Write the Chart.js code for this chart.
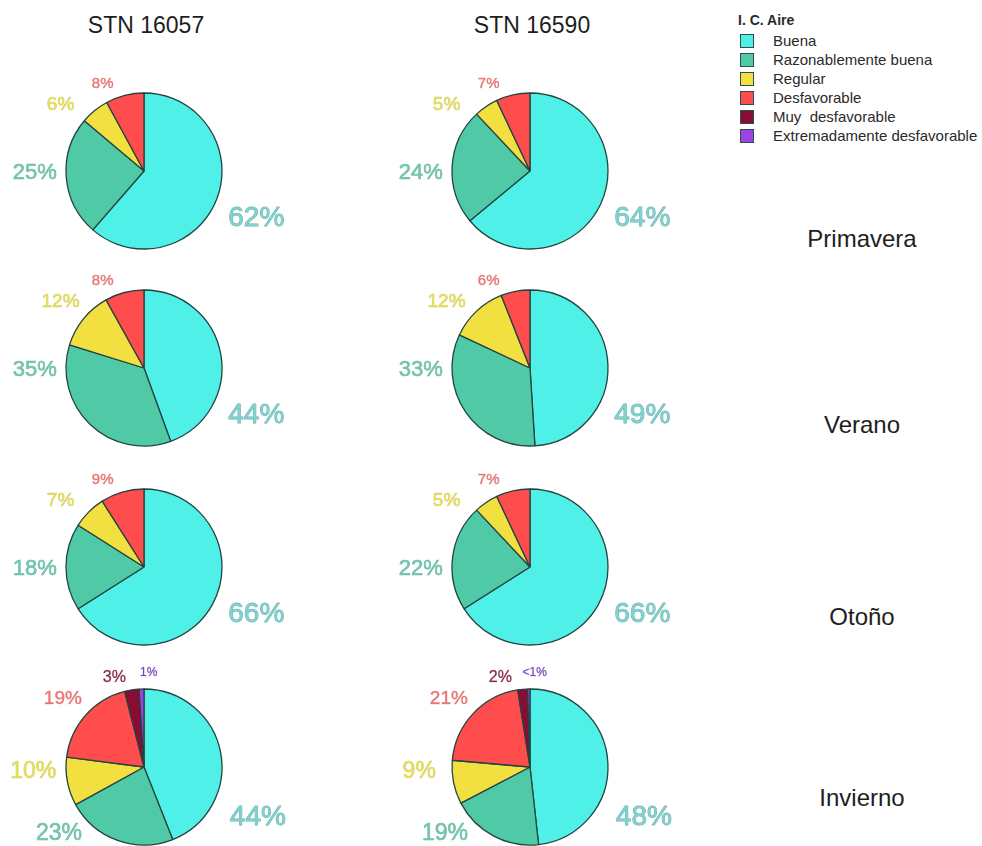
<!DOCTYPE html>
<html>
<head>
<meta charset="utf-8">
<script src="https://cdn.jsdelivr.net/npm/chart.js@4/dist/chart.umd.min.js"></script>
<style>
  html, body { margin: 0; padding: 0; background: #fff; }
  body { width: 982px; height: 846px; position: relative; overflow: hidden;
         font-family: Arial, "Liberation Sans", sans-serif; color: #1e1e1e; }
  .pie { position: absolute; }
  .txt { position: absolute; transform: translate(-50%, -50%); white-space: nowrap; }
  .station { font-size: 23px; }
  .season { font-size: 24px; }
  .legend { position: absolute; left: 738px; top: 10px; font-size: 15px; color: #2a2a2a; }
  .legend .head { font-size: 14px; font-weight: bold; height: 21px; line-height: 21px; }
  .legend .row { height: 19px; line-height: 19px; white-space: pre; position: relative; padding-left: 35px; }
  .legend .sw { position: absolute; left: 2px; top: 3px; width: 12px; height: 12px;
                border: 1px solid #2b4f4a; box-sizing: content-box; }
</style>
</head>
<body>
<script>
// Air quality index classes (legend order = slice order, clockwise from 12 o'clock)
const categories = ['Buena', 'Razonablemente buena', 'Regular', 'Desfavorable',
                    'Muy  desfavorable', 'Extremadamente desfavorable'];
const stations = ['STN 16057', 'STN 16590'];
const seasons = ['Primavera', 'Verano', 'Otoño', 'Invierno'];

// Share of days (%) per class, per station and season
const s16057Primavera = [62, 25, 6, 8, 0, 0];
const s16057Verano    = [44, 35, 12, 8, 0, 0];
const s16057Otono     = [66, 18, 7, 9, 0, 0];
const s16057Invierno  = [44, 23, 10, 19, 3, 1];

const s16590Primavera = [64, 24, 5, 7, 0, 0];
const s16590Verano    = [49, 33, 12, 6, 0, 0];
const s16590Otono     = [66, 22, 5, 7, 0, 0];
const s16590Invierno  = [48, 19, 9, 21, 2, 0.5];

const seriesByStation = [
  [s16057Primavera, s16057Verano, s16057Otono, s16057Invierno],
  [s16590Primavera, s16590Verano, s16590Otono, s16590Invierno]
];

// ---- styling ----
const sliceColors = ['#4ff0e7', '#4fc9a6', '#f1e040', '#ff4c4c', '#8a0b33', '#9b42e4'];
const labelColors = ['#7dd3d0', '#6cc8ae', '#e6df50', '#ee7474', '#8a2646', '#7d48c4'];
const labelEdge   = ['rgba(70,140,138,0.75)', 'rgba(70,140,122,0.7)', 'rgba(170,162,40,0.6)',
                     'rgba(190,80,80,0.5)', 'rgba(100,20,50,0.4)', 'rgba(90,45,150,0.4)'];
const edgeColor = '#24443f';

// page layout
const colX = [144, 530];
const rowY = [171, 368, 567, 767];
const pieRadius = 78;
const boxW = 300, boxH = 224;

// label placement around each pie, in units of the pie radius, plus font size
const slotsStandard = [
  { dx: 1.44, dy: 0.60, size: 28 },
  { dx: -1.40, dy: 0.03, size: 22 },
  { dx: -1.07, dy: -0.85, size: 19 },
  { dx: -0.53, dy: -1.12, size: 15 },
  { dx: -0.38, dy: -1.14, size: 16 },
  { dx: 0.06, dy: -1.20, size: 12 }
];
const slotsWinter = [
  { dx: 1.46, dy: 0.64, size: 28 },
  { dx: -1.09, dy: 0.86, size: 23 },
  { dx: -1.42, dy: 0.06, size: 23 },
  { dx: -1.04, dy: -0.87, size: 19 },
  { dx: -0.38, dy: -1.14, size: 16 },
  { dx: 0.06, dy: -1.21, size: 12 }
];

function pctText(v) { return v < 1 ? '<1%' : Math.round(v) + '%'; }

// draws each slice's percentage outside the pie
const pctLabels = {
  id: 'pctLabels',
  afterDatasetsDraw(chart, args, opts) {
    const ctx = chart.ctx;
    const meta = chart.getDatasetMeta(0);
    const values = chart.data.datasets[0].data;
    meta.data.forEach((arc, i) => {
      const v = values[i];
      if (!v) return;
      const s = opts.slots[i];
      const r = arc.outerRadius;
      const x = arc.x + s.dx * r;
      const y = arc.y + s.dy * r;
      ctx.save();
      ctx.font = s.size + 'px Arial, "Liberation Sans", sans-serif';
      ctx.textAlign = 'center';
      ctx.textBaseline = 'middle';
      ctx.lineWidth = s.size >= 26 ? 0.9 : 0.6;
      ctx.strokeStyle = labelEdge[i];
      ctx.lineJoin = 'round';
      ctx.strokeText(pctText(v), x, y);
      ctx.fillStyle = labelColors[i];
      ctx.fillText(pctText(v), x, y);
      ctx.restore();
    });
  }
};

function addText(cls, text, x, y) {
  const d = document.createElement('div');
  d.className = 'txt ' + cls;
  d.textContent = text;
  d.style.left = x + 'px';
  d.style.top = y + 'px';
  document.body.appendChild(d);
}

// pies
seriesByStation.forEach((list, c) => {
  list.forEach((values, r) => {
    const cx = colX[c], cy = rowY[r];
    const canvas = document.createElement('canvas');
    canvas.className = 'pie';
    canvas.width = boxW; canvas.height = boxH;
    canvas.style.left = (cx - boxW / 2) + 'px';
    canvas.style.top = (cy - boxH / 2) + 'px';
    canvas.style.width = boxW + 'px';
    canvas.style.height = boxH + 'px';
    document.body.appendChild(canvas);
    new Chart(canvas, {
      type: 'pie',
      data: {
        labels: categories,
        datasets: [{
          data: values,
          backgroundColor: sliceColors,
          borderColor: edgeColor,
          borderWidth: 1.3
        }]
      },
      options: {
        responsive: false,
        animation: false,
        devicePixelRatio: 1,
        radius: pieRadius,
        layout: { padding: { left: 40, right: 40, top: 20, bottom: 20 } },
        plugins: {
          legend: { display: false },
          tooltip: { enabled: false },
          pctLabels: { slots: seasons[r] === 'Invierno' ? slotsWinter : slotsStandard }
        }
      },
      plugins: [pctLabels]
    });
  });
});

// headings
stations.forEach((s, c) => addText('station', s, colX[c] + 2, 25));
const seasonY = [239, 425, 617, 798];
seasons.forEach((s, r) => addText('season', s, 862, seasonY[r]));

// legend
const lg = document.createElement('div');
lg.className = 'legend';
const head = document.createElement('div');
head.className = 'head';
head.textContent = 'I. C. Aire';
lg.appendChild(head);
categories.forEach((name, i) => {
  const row = document.createElement('div');
  row.className = 'row';
  const sw = document.createElement('span');
  sw.className = 'sw';
  sw.style.background = sliceColors[i];
  row.appendChild(sw);
  row.appendChild(document.createTextNode(name));
  lg.appendChild(row);
});
document.body.appendChild(lg);
</script>
</body>
</html>
